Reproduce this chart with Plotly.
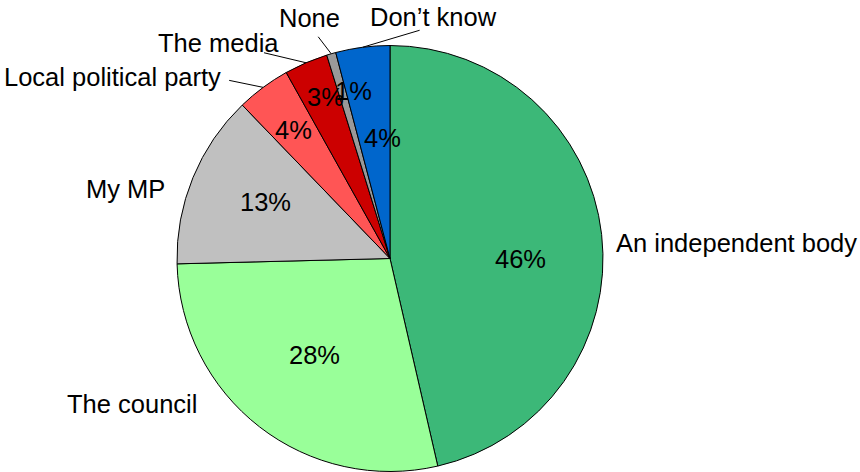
import math
import plotly.graph_objects as go

# ---- data ----
labels = ["An independent body", "The council", "My MP", "Local political party",
          "The media", "None", "Don\u2019t know"]
values = [46.4, 28.2, 13.2, 4.1, 3.3, 0.7, 4.1]
colors = ["#3CB878", "#99FF99", "#C0C0C0", "#FF5555", "#CC0000", "#999999", "#0066CC"]

# ---- layout / style constants ----
W, H = 860, 472
CX, CY, R = 390, 258.5, 213
FONT = "Arial, Liberation Sans, sans-serif"
FS = 25.5

# percent label placement: (angle offset deg, radius fraction)
pct_style = [(6.5, 0.615), (0.2, 0.577), (2.2, 0.64), (-0.4, 0.754),
             (1.3, 0.817), (3.7, 0.805), (3.8, 0.567)]
# category label offsets from slice edge point (px, screen coords)
lab_off = [(135, 9), (-127, -23), (-67.5, 11), (-151, -10), (-87.5, -20), (-22, -36), (71, -30)]
# leader line tail offsets (None = no line)
line_off = [None, None, None, (-34, -7), (-42, -10), (-13, -17), (57, -17)]


def to_paper(x, y):
    return x / W, 1 - y / H


def polar(theta_deg, r):
    t = math.radians(theta_deg)
    return CX + r * math.sin(t), CY - r * math.cos(t)


total = sum(values)
mids = []
cum = 0
for v in values:
    mids.append((cum + v / 2) / total * 360)
    cum += v

fig = go.Figure(go.Pie(
    labels=labels, values=values, sort=False, direction="clockwise", rotation=0,
    marker=dict(colors=colors, line=dict(color="black", width=1)),
    textinfo="none", hoverinfo="label+percent", showlegend=False,
    domain=dict(x=[(CX - R) / W, (CX + R) / W], y=[1 - (CY + R) / H, 1 - (CY - R) / H]),
))

annotations = []
shapes = []
for i, v in enumerate(values):
    # percent text
    da, rf = pct_style[i]
    px_, py_ = polar(mids[i] + da, rf * R)
    xp, yp = to_paper(px_, py_)
    annotations.append(dict(x=xp, y=yp, xref="paper", yref="paper",
                            text=f"{v / total * 100:.0f}%", showarrow=False,
                            xanchor="center", yanchor="middle",
                            font=dict(family=FONT, size=FS, color="black")))
    # category label
    hx, hy = polar(mids[i], R)
    dx, dy = lab_off[i]
    xp, yp = to_paper(hx + dx, hy + dy)
    annotations.append(dict(x=xp, y=yp, xref="paper", yref="paper",
                            text=labels[i], showarrow=False,
                            xanchor="center", yanchor="middle",
                            font=dict(family=FONT, size=FS, color="black")))
    if line_off[i] is not None:
        lx, ly = line_off[i]
        x0, y0 = to_paper(hx, hy)
        x1, y1 = to_paper(hx + lx, hy + ly)
        shapes.append(dict(type="line", xref="paper", yref="paper",
                           x0=x0, y0=y0, x1=x1, y1=y1,
                           line=dict(color="black", width=1)))

fig.update_layout(
    width=W, height=H, margin=dict(l=0, r=0, t=0, b=0),
    paper_bgcolor="white", plot_bgcolor="white",
    annotations=annotations, shapes=shapes,
)

fig.write_html("out.html")
